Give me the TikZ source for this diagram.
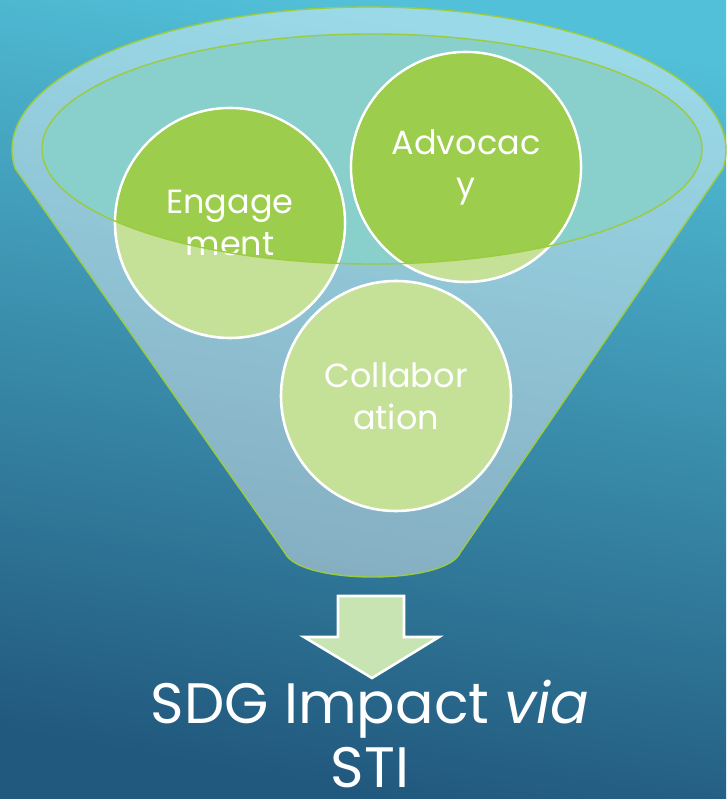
\documentclass[tikz,border=0pt]{standalone}
\usepackage{fontspec}
\setmainfont{Poppins}
\definecolor{bgtop}{HTML}{52C0D8}
\definecolor{bgmid}{HTML}{3A9FC0}
\definecolor{bgbot}{HTML}{21587D}
\definecolor{funline}{HTML}{9BCB3F}
\definecolor{innerfill}{HTML}{89CFCB}
\definecolor{lightgreen}{HTML}{C4E197}
\definecolor{darkgreen}{HTML}{9CCD4C}
\definecolor{arrowfill}{HTML}{C9E4B3}
\begin{document}
\begin{tikzpicture}[x=1pt,y=1pt,
  funnelbody/.style={fill=white, fill opacity=0.42, draw=funline, draw opacity=1, line width=1.4pt},
  innerell/.style={fill=innerfill},
  innerline/.style={draw=funline, line width=1.4pt},
  bubble/.style={circle, minimum size=230pt, inner sep=0pt, fill=lightgreen, draw=white, line width=2.6pt},
  btext/.style={text=white, font=\fontsize{33.5}{42}\selectfont, align=center, inner sep=0pt},
  bigarrow/.style={fill=arrowfill, draw=white, line width=2.6pt, line join=miter},
  title/.style={text=white, font=\fontsize{57}{67}\selectfont, inner sep=0pt, anchor=base}]
\useasboundingbox (0,0) rectangle (726,799);
\shade[top color=bgtop, middle color=bgmid, bottom color=bgbot, shading angle=-10] (0,0) rectangle (726,799);
% funnel body
\path[funnelbody] (15,630.6) arc[start angle=187.4, end angle=-7.4, x radius=357, y radius=143]
  -- (460,246) .. controls (445,214) and (300,214) .. (285,246) -- cycle;
% inner rim
\path[innerell] (372,650) ellipse[x radius=330, y radius=115];
% bubbles
\node[bubble] (eng) at (230,576) {};
\node[bubble] (adv) at (466,632) {};
\node[bubble] (col) at (396,403) {};
\begin{scope}
  \clip (372,650) ellipse[x radius=330, y radius=115];
  \fill[darkgreen] (eng.center) circle[radius=113.7];
  \fill[darkgreen] (adv.center) circle[radius=113.7];
\end{scope}
\node[btext] (engT) at (eng.center) {Engage\\ment};
\node[btext] (advT) at (adv.center) {Advocac\\y};
\node[btext] (colT) at (col.center) {Collabor\\ation};
\draw[innerline] (372,650) ellipse[x radius=330, y radius=115];
% arrow
\draw[bigarrow] (338,203) -- (404,203) -- (404,162) -- (439,162) -- (372,121) -- (304,162) -- (338,162) -- cycle;
% title
\node[title] (ttl1) at (370,75) {SDG Impact \textit{via}};
\node[title] (ttl2) at (370,12) {STI};
\end{tikzpicture}
\end{document}
